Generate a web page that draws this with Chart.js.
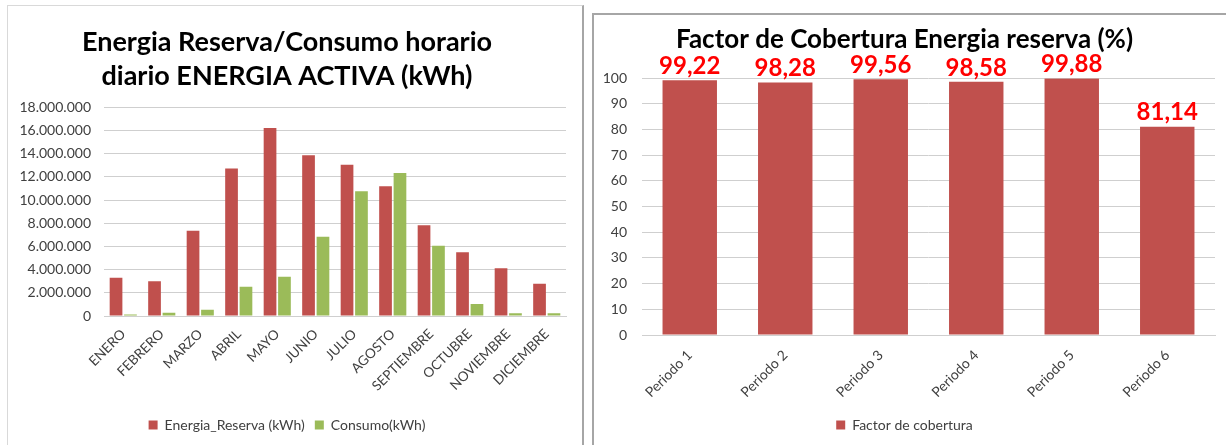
<!DOCTYPE html>
<html>
<head>
<meta charset="utf-8">
<script src="https://cdn.jsdelivr.net/npm/chart.js@4.4.1/dist/chart.umd.min.js"></script>
<style>
  body { margin:0; background:#fff; width:1226px; height:445px; overflow:hidden; position:relative; font-family:Lato, sans-serif; }
  .panel { position:absolute; background:#fff; }
  #leftPanel { left:7px; top:5px; width:574px; height:460px; border-left:1px solid #d9d9d9; border-top:1px solid #d9d9d9; border-right:2px solid #a6a6a6; }
  #rightPanel { left:592px; top:13px; width:640px; height:460px; border-left:2px solid #a6a6a6; border-top:2px solid #a6a6a6; }
  canvas { display:block; }
</style>
</head>
<body>
<div class="panel" id="leftPanel"><canvas id="energiaChart" width="574" height="440"></canvas></div>
<div class="panel" id="rightPanel"><canvas id="factorChart" width="634" height="432"></canvas></div>
<script>
// datos mensuales (kWh)
const meses = ['ENERO','FEBRERO','MARZO','ABRIL','MAYO','JUNIO','JULIO','AGOSTO','SEPTIEMBRE','OCTUBRE','NOVIEMBRE','DICIEMBRE'];
const energiaReserva = [3300000, 2990000, 7350000, 12720000, 16220000, 13870000, 13060000, 11200000, 7840000, 5510000, 4130000, 2780000];
const consumo = [140000, 290000, 550000, 2530000, 3390000, 6830000, 10770000, 12340000, 6060000, 1030000, 230000, 230000];
const ticksEnergia = [0, 2000000, 4000000, 6000000, 8000000, 10000000, 12000000, 14000000, 16000000, 18000000];

// factor de cobertura (%)
const periodos = ['Periodo 1','Periodo 2','Periodo 3','Periodo 4','Periodo 5','Periodo 6'];
const factorCobertura = [99.22, 98.28, 99.56, 98.58, 99.88, 81.14];
const ticksFactor = [0, 10, 20, 30, 40, 50, 60, 70, 80, 90, 100];

const ROJO = '#C0504D', VERDE = '#9BBB59', GRIS = '#404040', GRID = '#cfcfcf';
const FONT = 'Lato';

function puntos(n) { return n.toString().replace(/\B(?=(\d{3})+(?!\d))/g, '.'); }

// etiquetas de valor encima de las barras
const valorLabels = {
  id: 'valorLabels',
  afterDatasetsDraw(chart) {
    const ctx = chart.ctx;
    const meta = chart.getDatasetMeta(0);
    ctx.save();
    ctx.font = 'bold 24px ' + FONT;
    ctx.fillStyle = '#FF0000';
    ctx.textAlign = 'center';
    ctx.textBaseline = 'bottom';
    meta.data.forEach((bar, i) => {
      ctx.fillText(factorCobertura[i].toFixed(2).replace('.', ','), bar.x, bar.y - 2);
    });
    ctx.restore();
  }
};

new Chart(document.getElementById('energiaChart'), {
  type: 'bar',
  data: {
    labels: meses,
    datasets: [
      { label: 'Energia_Reserva (kWh)', data: energiaReserva, backgroundColor: ROJO, categoryPercentage: 0.75, barPercentage: 0.88 },
      { label: 'Consumo(kWh)', data: consumo, backgroundColor: VERDE, categoryPercentage: 0.75, barPercentage: 0.88 }
    ]
  },
  options: {
    responsive: false,
    animation: false,
    devicePixelRatio: 1,
    layout: { padding: { top: 20, right: 16, left: 0, bottom: 4 } },
    plugins: {
      title: {
        display: true,
        text: ['Energia Reserva/Consumo horario', 'diario ENERGIA ACTIVA (kWh)'],
        font: { family: FONT, size: 27, weight: 'bold', lineHeight: 1.23 },
        color: '#000',
        padding: { top: 0, bottom: 15 }
      },
      legend: {
        position: 'bottom',
        labels: { boxWidth: 9, boxHeight: 9, padding: 10, font: { family: FONT, size: 14 }, color: GRIS }
      },
      tooltip: { enabled: false }
    },
    scales: {
      x: {
        grid: { display: false },
        border: { color: GRID },
        ticks: { minRotation: 45, maxRotation: 45, autoSkip: false, font: { family: FONT, size: 13.5 }, color: GRIS, padding: 2 },
        afterFit: s => { s.height = 92; }
      },
      y: {
        min: 0, max: 18000000,
        afterBuildTicks: s => { s.ticks = ticksEnergia.map(v => ({ value: v })); },
        ticks: { callback: v => puntos(v), font: { family: FONT, size: 14 }, color: GRIS, padding: 13 },
        grid: { color: GRID, drawTicks: false },
        border: { display: false },
        afterFit: s => { s.width = 96; }
      }
    }
  }
});

new Chart(document.getElementById('factorChart'), {
  type: 'bar',
  data: {
    labels: periodos,
    datasets: [
      { label: 'Factor de cobertura', data: factorCobertura, backgroundColor: ROJO, categoryPercentage: 1, barPercentage: 0.57 }
    ]
  },
  options: {
    responsive: false,
    animation: false,
    devicePixelRatio: 1,
    layout: { padding: { top: 9, right: 13, left: 0, bottom: 5 } },
    plugins: {
      title: {
        display: true,
        text: 'Factor de Cobertura Energia reserva (%)',
        font: { family: FONT, size: 26, weight: 'bold' },
        color: '#000',
        padding: { top: 0, bottom: 23 }
      },
      legend: {
        position: 'bottom',
        labels: { boxWidth: 9, boxHeight: 9, padding: 10, font: { family: FONT, size: 14 }, color: GRIS }
      },
      tooltip: { enabled: false }
    },
    scales: {
      x: {
        grid: { display: false },
        border: { color: GRID },
        ticks: { minRotation: 45, maxRotation: 45, autoSkip: false, font: { family: FONT, size: 14 }, color: GRIS, padding: 4 },
        afterFit: s => { s.height = 73; }
      },
      y: {
        min: 0, max: 100,
        afterBuildTicks: s => { s.ticks = ticksFactor.map(v => ({ value: v })); },
        ticks: { font: { family: FONT, size: 14 }, color: GRIS, padding: 15 },
        grid: { color: GRID, drawTicks: false },
        border: { display: false },
        afterFit: s => { s.width = 48; }
      }
    }
  },
  plugins: [valorLabels]
});
</script>
</body>
</html>
